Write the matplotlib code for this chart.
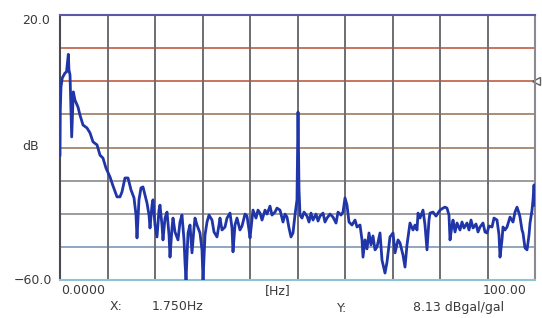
import numpy as np
import matplotlib
matplotlib.use("Agg")
import matplotlib.pyplot as plt

# spectrum (Hz, dB)
freq = [0.00, 0.06, 0.21, 0.48, 1.05, 1.37, 1.75, 1.89, 2.11, 2.46, 2.80, 3.16, 3.79, 4.21,
        4.84, 5.68, 6.32, 6.95, 7.79, 8.42, 9.05, 9.68, 10.53, 11.16, 12.00, 12.63, 13.05,
        13.68, 14.32, 14.95, 15.58, 16.00, 16.21, 16.63, 17.05, 17.47, 17.89, 18.32, 18.74,
        18.95, 19.37, 19.58, 20.00, 20.42, 20.84, 21.05, 21.47, 21.68, 22.11, 22.53, 22.95,
        23.16, 23.58, 23.79, 24.21, 24.84, 25.26, 25.68, 26.11, 26.32, 26.53, 26.95, 27.37,
        27.79, 28.21, 28.42, 28.84, 29.47, 29.89, 30.11, 30.53, 30.95, 31.37, 32.00, 32.42,
        33.05, 33.47, 33.68, 34.11, 34.74, 35.16, 35.79, 36.21, 36.42, 36.84, 37.26, 37.89,
        38.32, 38.95, 39.37, 39.79, 40.00, 40.42, 40.63, 41.26, 41.68, 42.11, 42.53, 43.16,
        43.58, 44.21, 44.63, 45.26, 45.68, 46.32, 46.95, 47.37, 47.79, 48.21, 48.63, 49.05,
        49.47, 49.89, 50.11, 50.32, 50.53, 50.95, 51.37, 52.00, 52.42, 52.84, 53.26, 53.89,
        54.32, 54.74, 55.37, 55.79, 56.21, 56.84, 57.47, 58.11, 58.53, 59.16, 59.58, 60.00,
        60.42, 60.84, 61.47, 62.11, 62.53, 63.16, 63.58, 63.79, 64.21, 64.63, 65.05, 65.47,
        65.89, 66.32, 66.74, 67.37, 67.79, 68.42, 68.84, 69.47, 70.11, 70.53, 71.16, 71.58,
        72.21, 72.63, 73.05, 73.68, 74.32, 74.74, 75.16, 75.37, 75.79, 76.42, 76.84, 77.26,
        77.68, 77.89, 78.53, 79.16, 80.00, 80.63, 81.05, 81.47, 81.89, 82.11, 82.53, 82.74,
        83.16, 83.58, 84.21, 84.63, 85.05, 85.68, 86.11, 86.53, 86.95, 87.58, 88.00, 88.42,
        89.05, 89.47, 89.89, 90.32, 90.95, 91.37, 92.00, 92.42, 92.63, 93.05, 93.26, 93.68,
        94.11, 94.74, 95.37, 95.79, 96.21, 96.63, 96.84, 97.26, 97.47, 97.89, 98.32, 98.74,
        98.95, 99.37, 99.58, 99.79, 100.0]
level = [-22.3, -8.7, -1.7, 1.0, 2.5, 2.8, 8.13, 3.4, 1.9, -16.8, -3.2, -5.7, -7.8, -10.2,
         -13.2, -14.1, -15.6, -18.3, -19.2, -22.3, -23.2, -26.2, -28.9, -31.6, -34.9, -34.9, -33.4,
         -29.2, -29.2, -32.8, -35.2, -40.4, -47.3, -35.8, -32.2, -31.9, -34.3, -36.8, -40.4,
         -44.3, -37.4, -35.8, -43.4, -47.0, -38.9, -37.4, -43.4, -47.9, -41.3, -39.5, -46.4,
         -53.1, -44.3, -41.3, -45.5, -47.9, -42.5, -40.4, -47.9, -54.9, -60.0, -45.8, -43.4,
         -51.8, -44.3, -41.3, -43.4, -45.8, -50.9, -60.0, -46.4, -42.5, -40.4, -41.9, -45.5,
         -47.0, -43.4, -41.3, -44.9, -44.0, -41.3, -39.8, -44.3, -51.5, -43.4, -41.3, -44.9,
         -43.7, -40.1, -40.7, -44.9, -47.3, -41.9, -38.9, -41.3, -38.9, -39.8, -41.9, -38.9,
         -40.1, -37.7, -40.4, -39.5, -38.3, -38.9, -42.5, -40.1, -41.0, -44.3, -47.0, -45.8,
         -40.4, -35.8, -9.3, -32.8, -40.4, -41.3, -39.5, -40.7, -42.5, -39.8, -41.9, -40.1,
         -42.2, -40.7, -39.8, -42.5, -41.3, -40.1, -41.0, -42.8, -39.5, -40.4, -39.5, -35.2,
         -37.4, -42.5, -43.4, -41.9, -44.0, -43.4, -47.9, -53.1, -47.9, -50.6, -45.8, -49.4,
         -46.7, -50.9, -50.0, -45.8, -54.0, -57.9, -54.6, -47.0, -45.8, -51.8, -47.9, -48.8,
         -52.5, -56.1, -49.4, -42.8, -44.9, -43.4, -44.9, -39.8, -41.3, -38.9, -43.4, -50.9,
         -41.9, -39.8, -39.5, -40.7, -38.9, -38.3, -38.0, -38.3, -40.4, -47.9, -43.4, -41.9,
         -45.5, -42.8, -44.9, -42.5, -44.3, -42.8, -44.9, -41.9, -44.3, -43.1, -45.5, -44.0,
         -42.8, -45.5, -45.8, -43.7, -44.0, -41.3, -41.9, -46.4, -53.1, -47.9, -44.0, -44.9,
         -44.0, -41.0, -42.5, -39.5, -38.0, -39.8, -41.0, -44.9, -45.8, -50.3, -50.9, -46.4,
         -42.8, -38.9, -35.8, -31.3, -37.4]

grid_db = [10, 0, -10, -20, -30, -40, -50]
grid_colors = ["#c8745e", "#c8745e", "#a88e74", "#a88e74", "#9c9ca0", "#9c9ca0", "#90a6c0"]
grid_hz = [10, 20, 30, 40, 50, 60, 70, 80, 90]

fig = plt.figure(figsize=(5.42, 3.18), dpi=100)
ax = fig.add_axes([0.1107, 0.1195, 0.8764, 0.8333])
ax.set_xlim(0, 100)
ax.set_ylim(-60, 20)

for v, c in zip(grid_db, grid_colors):
    ax.axhline(v, color=c, lw=1.4, zorder=1)
for v in grid_hz:
    ax.axvline(v, color="#6c6c72", lw=1.4, zorder=1)

ax.plot(freq, level, color="#1f35a8", lw=2.0, zorder=3)

ax.set_xticks([])
ax.set_yticks([])
ax.spines["top"].set_color("#5a5aa8")
ax.spines["left"].set_color("#4a4a50")
ax.spines["right"].set_color("#8a8a90")
ax.spines["bottom"].set_color("#8cc4d4")
for s in ax.spines.values():
    s.set_linewidth(1.5)

# reference level marker at right edge
ax.plot([1.003], [0.75], marker="<", ms=6, mfc="white", mec="#606060",
        transform=ax.transAxes, clip_on=False)

tc = "#3a3a3a"
fs = 9
fig.text(50 / 542, 1 - 21 / 318, "20.0", ha="right", va="center", fontsize=fs, color=tc)
fig.text(52 / 542, 1 - 280 / 318, "\u221260.0", ha="right", va="center", fontsize=fs, color=tc)
fig.text(31 / 542, 1 - 147 / 318, "dB", ha="center", va="center", fontsize=fs, color=tc)
fig.text(61 / 542, 1 - 291 / 318, "0.0000", ha="left", va="center", fontsize=fs, color=tc)
fig.text(527 / 542, 1 - 291 / 318, "100.00", ha="right", va="center", fontsize=fs, color=tc)
fig.text(278 / 542, 1 - 291 / 318, "[Hz]", ha="center", va="center", fontsize=fs, color=tc)
fig.text(110 / 542, 1 - 307 / 318, "X:", ha="left", va="center", fontsize=fs, color=tc)
fig.text(152 / 542, 1 - 307 / 318, "1.750Hz", ha="left", va="center", fontsize=fs, color=tc)
fig.text(337 / 542, 1 - 308 / 318, "Y:", ha="left", va="center", fontsize=fs, color=tc)
fig.text(413 / 542, 1 - 308 / 318, "8.13 dBgal/gal", ha="left", va="center", fontsize=fs, color=tc)

fig.savefig("out.png", dpi=100)
